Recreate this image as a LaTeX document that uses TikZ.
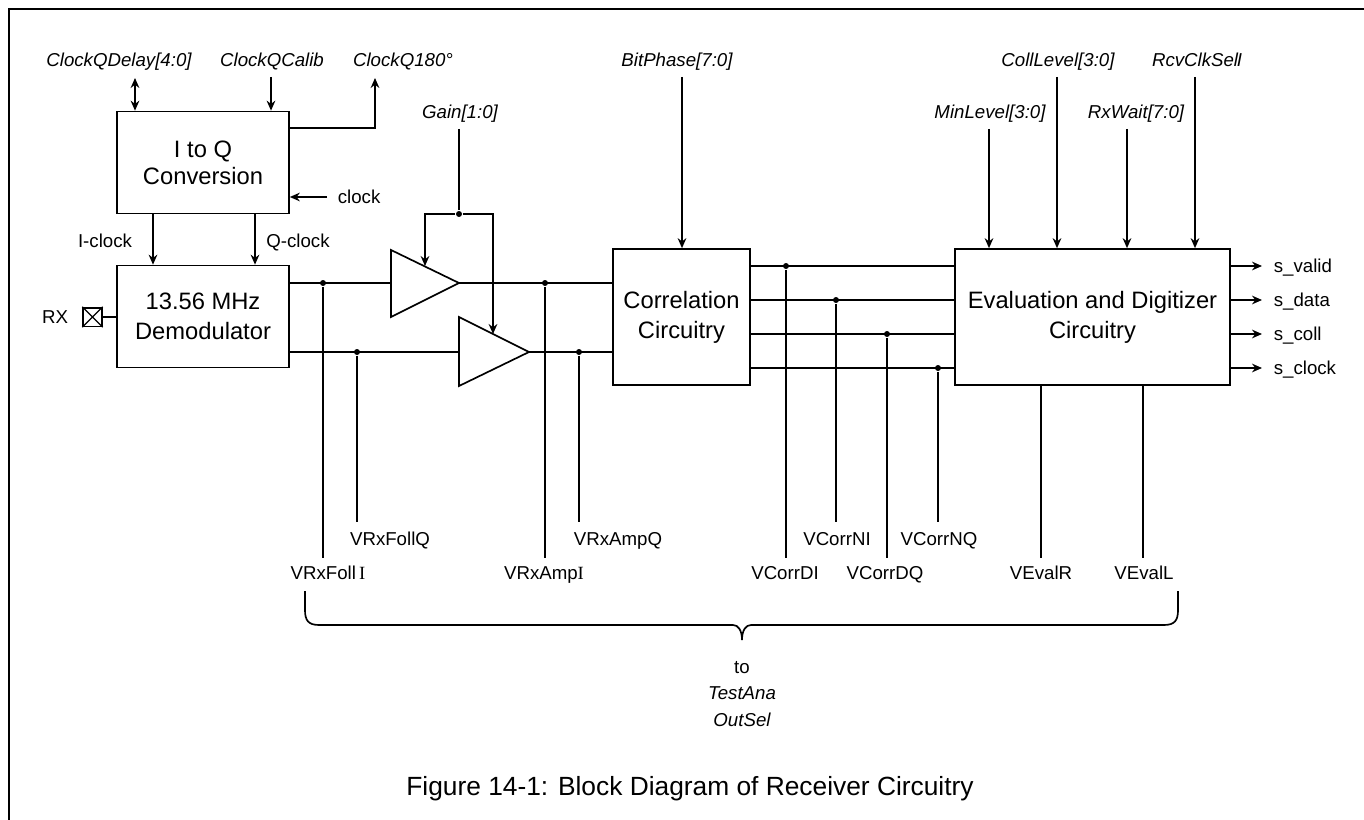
\documentclass[tikz,border=0pt]{standalone}
\usepackage{fontspec}
\setmainfont{Liberation Sans}
\newfontfamily\serifI{Liberation Serif}
\usetikzlibrary{positioning, arrows.meta}
\tikzset{
	block/.style={draw, fill=white, align=center, inner sep=0pt, font=\fontsize{17.8}{22.5}\selectfont},
	lbl/.style={inner sep=0pt, text height=10pt, text depth=0pt, font=\fontsize{14}{17}\selectfont},
	sig/.style={lbl, font=\fontsize{14}{17}\selectfont\itshape},
	dot/.style={circle, fill=black, inner sep=0pt, minimum size=4.5pt}
}
\begin{document}
\begin{tikzpicture}[>={Stealth[length=7.5pt,width=6.5pt]}, x=0.75pt, y=-0.75pt, line width=1.25pt]
	\useasboundingbox (0,0) rectangle (1364,820);
	\draw[line width=1.5pt] (1364,9.5) -- (8.5,9.5) -- (8.5,820);

	% blocks
	\node[block, minimum width=129pt, minimum height=76.5pt] (IQ) at (203,162.5) {I to Q\\[-2pt]Conversion};
	\node[block, minimum width=129pt, minimum height=76.5pt] (Demod) at (203,316.5) {13.56 MHz\\Demodulator};
	\node[block, minimum width=103pt, minimum height=102pt] (Corr) at (681.5,317) {Correlation\\Circuitry};
	\node[block, minimum width=206pt, minimum height=102pt] (Eval) at (1092.5,317) {Evaluation and Digitizer\\Circuitry};

	% top signals
	\node[sig] (ClockQDelay) at (119,60) {ClockQDelay[4:0]};
	\node[sig] (ClockQCalib) at (272,60) {ClockQCalib};
	\node[sig] (ClockQ180) at (403,60) {ClockQ180°};
	\node[sig] (Gain) at (460,112) {Gain[1:0]};
	\node[sig] (BitPhase) at (677,60) {BitPhase[7:0]};
	\node[sig] (MinLevel) at (990,112) {MinLevel[3:0]};
	\node[sig] (CollLevel) at (1058,60) {CollLevel[3:0]};
	\node[sig] (RxWait) at (1136,112) {RxWait[7:0]};
	\node[sig] (RcvClkSel) at (1197,60) {RcvClkSel\kern-1pt I};

	\coordinate (a1) at (135,78);
	\coordinate (a2) at (271,77);
	\coordinate (a3) at (375,78);
	\coordinate (a4) at (682,77);
	\coordinate (a5) at (989,129);
	\coordinate (a6) at (1057,77);
	\coordinate (a7) at (1127,129);
	\coordinate (a8) at (1195,77);
	\draw[<->] (a1) -- (a1 |- IQ.north);
	\draw[->] (a2) -- (a2 |- IQ.north);
	\draw[->] (IQ.east |- 0,128) -| (a3);
	\draw[->] (a4) -- (a4 |- Corr.north);
	\draw[->] (a5) -- (a5 |- Eval.north);
	\draw[->] (a6) -- (a6 |- Eval.north);
	\draw[->] (a7) -- (a7 |- Eval.north);
	\draw[->] (a8) -- (a8 |- Eval.north);

	% clocks
	\node[lbl, anchor=west] (clock) at (337,197) {clock};
	\coordinate (c1) at (327,197);
	\draw[->] (c1) -- (c1 -| IQ.east);
	\node[lbl] (Iclock) at (105,241) {I-clock};
	\node[lbl] (Qclock) at (298,241) {Q-clock};
	\coordinate (c2) at (153,214);
	\coordinate (c3) at (255,214);
	\draw[->] (c2) -- (c2 |- Demod.north);
	\draw[->] (c3) -- (c3 |- Demod.north);

	% RX pad
	\node[lbl] (RX) at (55,317) {RX};
	\node[draw, minimum size=14pt, inner sep=0pt] (pad) at (92.5,317) {};
	\draw[line width=0.8pt] (pad.north west) -- (pad.south east) (pad.north east) -- (pad.south west);
	\draw (pad) -- (pad -| Demod.west);

	% amplifiers
	\coordinate (AmpIin) at (391,283);
	\coordinate (AmpIout) at (459,283);
	\coordinate (AmpQin) at (459,352);
	\coordinate (AmpQout) at (529,352);
	\draw (391,250) -- (AmpIout) -- (391,317) -- cycle;
	\draw (459,317) -- (AmpQout) -- (459,386) -- cycle;
	\draw (AmpIin -| Demod.east) -- (AmpIin);
	\draw (AmpQin -| Demod.east) -- (AmpQin);
	\draw (AmpIout) -- (AmpIout -| Corr.west);
	\draw (AmpQout) -- (AmpQout -| Corr.west);

	% gain
	\node[dot] (g0) at (459,214) {};
	\coordinate (g1) at (459,129);
	\coordinate (g2) at (425,266);
	\coordinate (g3) at (493,334);
	\draw (g1) -- (g0);
	\draw[->] (g0) -| (g2);
	\draw[->] (g0) -| (g3);

	% test points
	\node[dot] (t1) at (323,283) {};
	\node[dot] (t2) at (357,352) {};
	\node[dot] (t3) at (545,283) {};
	\node[dot] (t4) at (579,352) {};
	\node[dot] (t5) at (786,266) {};
	\node[dot] (t6) at (836,300) {};
	\node[dot] (t7) at (887,334) {};
	\node[dot] (t8) at (938,368) {};
	\node[lbl] (VRxFollI) at (328,573) {VRxFoll\,{\serifI I}};
	\node[lbl] (VRxFollQ) at (390,539) {VRxFollQ};
	\node[lbl] (VRxAmpI) at (544,573) {VRxAmp{\serifI I}};
	\node[lbl] (VRxAmpQ) at (618,539) {VRxAmpQ};
	\node[lbl] (VCorrDI) at (785,573) {VCorrDI};
	\node[lbl] (VCorrNI) at (837,539) {VCorrNI};
	\node[lbl] (VCorrDQ) at (885,573) {VCorrDQ};
	\node[lbl] (VCorrNQ) at (939,539) {VCorrNQ};
	\node[lbl] (VEvalR) at (1041,573) {VEvalR};
	\node[lbl] (VEvalL) at (1144,573) {VEvalL};
	\draw (t1) -- (323,558);
	\draw (t2) -- (357,522);
	\draw (t3) -- (545,558);
	\draw (t4) -- (579,522);
	\draw (t5) -- (786,558);
	\draw (t6) -- (836,522);
	\draw (t7) -- (887,558);
	\draw (t8) -- (938,522);
	\draw (Eval.south -| VEvalR) -- (1041,558);
	\draw (Eval.south -| 1143,0) -- (1143,558);

	% correlator to evaluator
	\foreach \y in {266,300,334,368} {
		\draw (Corr.east |- 0,\y) -- (Eval.west |- 0,\y);
		\draw[->] (Eval.east |- 0,\y) -- (1262,\y);
	}
	\node[lbl, anchor=west] (svalid) at (1273,266) {s\_valid};
	\node[lbl, anchor=west] (sdata) at (1273,300) {s\_data};
	\node[lbl, anchor=west] (scoll) at (1273,334) {s\_coll};
	\node[lbl, anchor=west] (sclock) at (1273,368) {s\_clock};

	% brace
	\draw (305,591) -- (305,610) .. controls (305,620) and (308,625) .. (319,625) -- (733,625)
		.. controls (738,625) and (742,630) .. (742,640) .. controls (742,630) and (746,625) .. (751,625)
		-- (1164,625) .. controls (1175,625) and (1178,620) .. (1178,610) -- (1178,591);
	\node[lbl] (to) at (742,667) {to};
	\node[sig] (TestAna) at (742,693) {TestAna};
	\node[sig] (OutSel) at (742,720) {OutSel};

	\node[inner sep=0pt, font=\fontsize{19.75}{23}\selectfont] (caption) at (690,789) {Figure 14-1: Block Diagram of Receiver Circuitry};
\end{tikzpicture}
\end{document}
